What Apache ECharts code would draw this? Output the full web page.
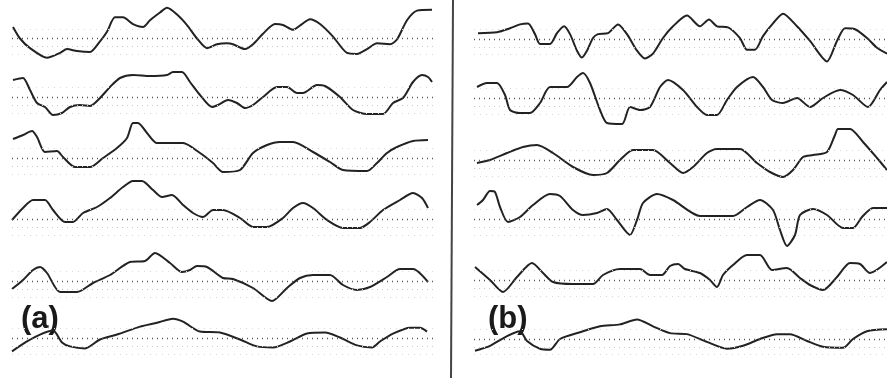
<!DOCTYPE html>
<html>
<head>
<meta charset="utf-8">
<script src="https://cdn.jsdelivr.net/npm/echarts@6/dist/echarts.min.js"></script>
<style>
  html, body { margin: 0; padding: 0; background: #fff; }
  #chart { width: 887px; height: 378px; }
</style>
</head>
<body>
<div id="chart"></div>
<script>
// Recorded traces: [time, deflection] pairs, deflection measured from each trace's baseline.
// Panel (a)
var traceA1 = [[13,12],[20,0],[30,-10],[47,-20],[60,-15],[67,-11],[77,-13],[90,-14],[100,-3],[107,7],[115,22],[123,22],[133,15],[143,12],[150,19],[160,27],[167,32],[177,25],[187,14],[197,0],[207,-10],[217,-6],[227,-5],[233,-6],[245,-11],[253,-6],[263,5],[275,15],[283,14],[293,9],[302,15],[310,20],[320,15],[333,2],[347,-15],[357,-16],[367,-11],[377,-5],[390,-6],[397,-1],[407,19],[417,29],[432,30]];
var traceA2 = [[13,17],[23,19],[30,7],[37,-6],[45,-10],[53,-18],[62,-16],[70,-10],[80,-8],[90,-9],[100,-1],[110,10],[120,19],[133,22],[150,21],[167,22],[173,25],[182,25],[190,15],[200,2],[212,-10],[218,-8],[228,-3],[237,-6],[245,-11],[253,-8],[263,0],[277,10],[287,10],[297,4],[303,4],[317,12],[325,11],[340,0],[353,-13],[367,-17],[383,-17],[393,-6],[403,-1],[413,15],[422,22],[428,20],[432,15]];
var traceA3 = [[13,19],[23,23],[32,27],[37,21],[45,6],[57,7],[63,1],[75,-9],[90,-9],[103,0],[117,10],[127,20],[133,35],[138,35],[147,25],[157,15],[183,15],[200,5],[213,-5],[223,-14],[240,-12],[253,5],[267,13],[280,16],[293,16],[313,6],[330,-4],[343,-12],[367,-13],[377,-5],[387,5],[397,11],[413,17],[428,18]];
var traceA4 = [[12,-1],[23,11],[33,19],[45,19],[53,9],[65,-3],[73,-3],[83,6],[97,12],[110,21],[123,32],[133,38],[142,38],[153,29],[162,22],[172,24],[183,14],[193,6],[203,2],[213,9],[223,9],[240,1],[253,-8],[267,-8],[283,1],[293,11],[303,16],[313,11],[327,-1],[343,-9],[360,-9],[370,-3],[383,9],[400,19],[413,26],[422,21],[428,11]];
var traceA5 = [[12,-8],[23,1],[33,11],[40,14],[47,8],[60,-11],[77,-11],[93,-2],[110,6],[130,19],[145,20],[155,28],[170,18],[182,9],[190,11],[197,15],[207,14],[223,3],[233,2],[253,-7],[272,-20],[287,-7],[300,3],[313,6],[330,6],[343,-4],[357,-9],[370,-6],[387,4],[400,12],[413,12],[428,-1]];
var traceA6 = [[12,-13],[27,-3],[40,4],[53,8],[62,-4],[70,-8],[85,-10],[100,-1],[117,4],[140,12],[157,16],[173,20],[183,17],[200,7],[220,6],[240,-1],[257,-8],[273,-9],[290,-3],[307,5],[325,6],[340,1],[357,-7],[372,-9],[380,-3],[393,5],[410,11],[420,11],[427,7]];

// Panel (b)
var traceB1 = [[38,6],[57,7],[70,11],[80,15],[88,16],[95,5],[100,-5],[110,-5],[117,6],[124,13],[130,5],[137,-12],[142,-19],[147,-12],[153,1],[158,5],[168,6],[178,15],[187,5],[197,-12],[205,-20],[213,-15],[223,1],[233,13],[247,24],[260,13],[269,20],[277,13],[288,12],[300,1],[307,-11],[315,-11],[323,3],[333,16],[343,26],[357,13],[370,-2],[387,-23],[397,-2],[405,11],[415,10],[427,1],[437,-9],[447,-15]];
var traceB2 = [[37,11],[47,15],[57,15],[65,3],[70,-12],[80,-15],[90,-15],[100,-5],[110,11],[127,11],[137,21],[143,25],[150,15],[160,-12],[167,-25],[182,-26],[190,-9],[200,-12],[210,-9],[220,11],[228,18],[243,8],[257,-9],[267,-17],[277,-17],[287,-2],[297,11],[313,21],[323,11],[332,-2],[343,-5],[357,0],[370,-9],[383,0],[400,8],[413,3],[428,-9],[440,8],[447,16]];
var traceB3 = [[37,-3],[50,0],[67,7],[83,13],[97,15],[113,7],[133,-7],[153,-15],[167,-13],[180,0],[193,10],[213,10],[230,-3],[243,-13],[253,-7],[267,7],[277,11],[300,11],[317,-3],[330,-12],[343,-17],[353,-10],[363,3],[373,5],[387,8],[395,25],[398,31],[410,31],[423,18],[437,2],[447,-10]];
var traceB4 = [[37,14],[43,19],[50,28],[55,27],[60,12],[68,-3],[80,2],[93,14],[110,25],[120,23],[133,9],[143,4],[157,6],[167,10],[177,-1],[190,-16],[197,-1],[203,16],[217,25],[233,19],[260,3],[293,3],[307,12],[320,19],[333,9],[340,-11],[347,-27],[355,-16],[360,4],[373,10],[387,4],[403,-9],[413,-9],[422,2],[433,11],[447,11]];
var traceB5 = [[35,13],[50,0],[63,-12],[77,3],[92,17],[103,7],[113,-2],[133,-4],[153,-4],[163,5],[180,11],[200,11],[210,5],[222,5],[230,14],[238,16],[245,11],[260,7],[270,0],[277,-7],[283,5],[293,15],[307,25],[320,25],[332,10],[347,12],[360,2],[370,-5],[383,-10],[397,3],[410,17],[420,16],[430,7],[447,18]];
var traceB6 = [[35,-12],[50,-7],[67,3],[80,8],[87,-2],[100,-10],[110,-11],[120,0],[140,7],[160,13],[180,15],[197,20],[213,13],[230,6],[247,5],[267,-3],[287,-10],[303,-7],[320,0],[337,5],[350,5],[367,-2],[383,-8],[403,-9],[413,0],[427,8],[447,10]];

var panelLabels = ['(a)', '(b)'];

// Layout: one grid per trace, stacked; each grid's y = 0 sits on the trace baseline.
var panels = [
  { traces: [traceA1, traceA2, traceA3, traceA4, traceA5, traceA6],
    baselines: [37, 97, 158, 219, 281, 339], left: 12, xMin: 12, xMax: 434 },
  { traces: [traceB1, traceB2, traceB3, traceB4, traceB5, traceB6],
    baselines: [38, 98, 160, 219, 280, 340], left: 474, xMin: 34, xMax: 447 }
];
var HALF = 40;

var grids = [], xAxes = [], yAxes = [], series = [];
panels.forEach(function (p) {
  p.traces.forEach(function (tr, i) {
    var idx = grids.length;
    grids.push({ left: p.left, top: p.baselines[i] - HALF,
                 width: p.xMax - p.xMin, height: 2 * HALF });
    xAxes.push({ type: 'value', gridIndex: idx, min: p.xMin, max: p.xMax, show: false });
    yAxes.push({ type: 'value', gridIndex: idx, min: -HALF, max: HALF, show: false });
    series.push({
      type: 'line', xAxisIndex: idx, yAxisIndex: idx, data: tr,
      symbol: 'none', smooth: 0.25, silent: true,
      lineStyle: { color: '#222', width: 2 },
      markLine: {
        silent: true, symbol: 'none', label: { show: false },
        data: [
          { yAxis: 0, lineStyle: { color: '#555', width: 1.3, type: [1, 4] } },
          { yAxis: -8, lineStyle: { color: '#c8c8c8', width: 1, type: [1, 4] } },
          { yAxis: -16, lineStyle: { color: '#d4d4d4', width: 1, type: [1, 5] } },
          { yAxis: 10, lineStyle: { color: '#dadada', width: 1, type: [1, 5] } }
        ]
      }
    });
  });
});

var chart = echarts.init(document.getElementById('chart'), null, { renderer: 'canvas' });
chart.setOption({
  backgroundColor: '#ffffff',
  animation: false,
  grid: grids,
  xAxis: xAxes,
  yAxis: yAxes,
  series: series,
  graphic: [
    { type: 'line', shape: { x1: 453, y1: 0, x2: 451, y2: 378 },
      style: { stroke: '#444', lineWidth: 2 } },
    { type: 'text', left: 21, top: 304,
      style: { text: panelLabels[0], font: 'bold 31px "Liberation Sans", Arial, sans-serif', fill: '#1a1a1a' } },
    { type: 'text', left: 488, top: 304,
      style: { text: panelLabels[1], font: 'bold 31px "Liberation Sans", Arial, sans-serif', fill: '#1a1a1a' } }
  ]
});
</script>
</body>
</html>
